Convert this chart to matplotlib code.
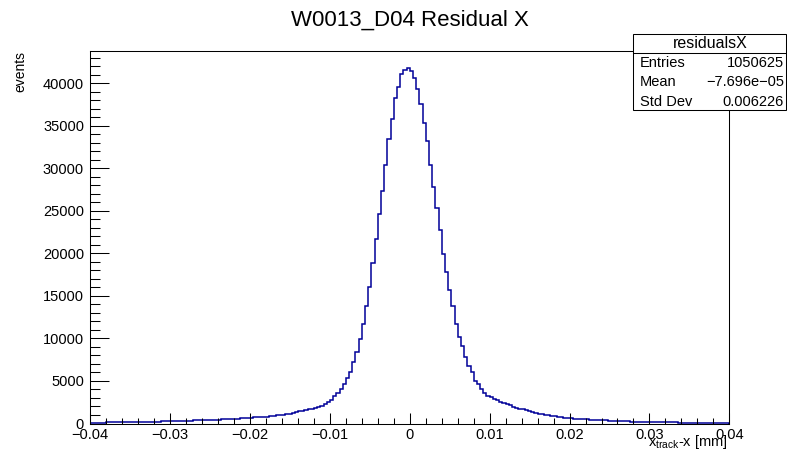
import numpy as np
import matplotlib
matplotlib.use('Agg')
import matplotlib.pyplot as plt
from matplotlib.patches import Rectangle
from matplotlib.lines import Line2D
from matplotlib.ticker import MultipleLocator, FuncFormatter

# histogram range / binning
x_lo = -0.04
x_hi = 0.04
n_bins = 200

# counts, bin by bin
left_tail = [100, 102, 106, 110, 115, 120, 124, 129, 134, 140,
             145, 151, 158, 165, 172, 180, 187, 195, 203, 211,
             220, 231, 243, 256, 268, 280, 291, 302, 313, 324,
             335, 347, 359, 371, 383, 395, 408, 421, 434, 447,
             460, 478, 497, 518, 539, 560, 585, 611, 637, 663,
             690, 715, 741, 767, 793, 820, 857, 899, 944, 985,
             1030, 1098, 1172, 1250, 1332, 1420, 1500, 1590, 1690, 1740,
             1800, 1930, 2080, 2250, 2480]
core = [2760, 3270, 3550, 4060, 4610, 5390, 6090, 7270, 8440, 9900,
        11700, 13820, 16020, 18910, 21660, 24670, 27340, 30360, 33490, 35810,
        38240, 39540, 41070, 41570, 41750, 41450, 40670, 39300, 37570, 35370,
        33220, 30360, 27850, 25380, 22760, 19900, 17780, 15700, 13820, 11670,
        10210, 9150, 7860, 6800, 6020, 5030, 4650, 4060, 3550, 3270]
right_tail = [3100, 2920, 2740, 2570, 2410, 2250, 2120, 1990, 1870, 1760,
              1650, 1550, 1450, 1350, 1260, 1170, 1105, 1040, 975, 915,
              860, 805, 755, 705, 655, 610, 583, 557, 531, 505,
              480, 457, 435, 413, 391, 370, 353, 336, 319, 302,
              285, 270, 255, 240, 225, 210, 203, 196, 189, 182,
              175, 168, 161, 154, 147, 140, 134, 128, 122, 116,
              110, 106, 102, 98, 94, 90, 87, 84, 81, 78,
              75, 71, 68, 64, 60]

title = 'W0013_D04 Residual X'
stat_name = 'residualsX'
stat_labels = ['Entries', 'Mean', 'Std Dev']
stat_values = ['1050625', '\u22127.696e\u221205', '0.006226']

counts = np.array(left_tail + core + right_tail, dtype=float)
edges = np.linspace(x_lo, x_hi, n_bins + 1)

plt.rcParams['font.family'] = ['Liberation Sans', 'DejaVu Sans']
plt.rcParams['mathtext.fontset'] = 'custom'
plt.rcParams['mathtext.rm'] = 'Liberation Sans'

W, H = 787, 458
fig = plt.figure(figsize=(W / 100, H / 100), dpi=100)
ax = fig.add_axes([90.3 / W, 1 - 423.5 / H, (729.3 - 90.3) / W, (423.5 - 50.7) / H])

ax.stairs(counts, edges, color='#000099', lw=1.1)

ax.set_xlim(x_lo, x_hi)
ax.set_ylim(0, counts.max() * 1.05)

ax.xaxis.set_major_locator(MultipleLocator(0.01))
ax.xaxis.set_minor_locator(MultipleLocator(0.002))
ax.yaxis.set_major_locator(MultipleLocator(5000))
ax.yaxis.set_minor_locator(MultipleLocator(1000))


def xfmt(v, pos):
    if abs(v) < 1e-9:
        return '0'
    return ('%g' % round(v, 4)).replace('-', '\u2212')


ax.xaxis.set_major_formatter(FuncFormatter(xfmt))
ax.yaxis.set_major_formatter(FuncFormatter(lambda v, p: '%d' % v))

ax.tick_params(axis='both', which='both', direction='in', top=False, right=False,
               width=0.75, labelsize=10.5)
ax.tick_params(axis='x', which='major', length=8, pad=3)
ax.tick_params(axis='x', which='minor', length=4)
ax.tick_params(axis='y', which='major', length=14, pad=4.5)
ax.tick_params(axis='y', which='minor', length=7)
for sp in ax.spines.values():
    sp.set_linewidth(0.75)

fig.text(409.8 / W, 1 - 20.5 / H, title, ha='center', va='center', fontsize=16)
fig.text(20 / W, 1 - 50.7 / H, 'events', rotation=90, ha='center', va='top', fontsize=10)
fig.text(728 / W, 1 - 446 / H, r'$\mathregular{x_{track}}$-x [mm]', ha='right',
         va='baseline', fontsize=10.5)

# stats box
bx0, bx1 = 633.3 / W, 786.3 / W
by0, by1 = 1 - 110 / H, 1 - 34 / H
fig.patches.append(Rectangle((bx0, by0), bx1 - bx0, by1 - by0, transform=fig.transFigure,
                             facecolor='white', edgecolor='black', lw=0.75, zorder=5))
fig.lines.append(Line2D([bx0, bx1], [1 - 53 / H, 1 - 53 / H], transform=fig.transFigure,
                        color='black', lw=0.75, zorder=6))
fig.text((bx0 + bx1) / 2, 1 - 43.5 / H, stat_name, ha='center', va='center',
         fontsize=11.5, zorder=7)
row_y = [62.7, 82.3, 101.7]
for lab, val, yy in zip(stat_labels, stat_values, row_y):
    fig.text(640 / W, 1 - yy / H, lab, ha='left', va='center', fontsize=10.5, zorder=7)
    fig.text(784 / W, 1 - yy / H, val, ha='right', va='center', fontsize=10.5, zorder=7)

fig.savefig('out.png', dpi=100)
